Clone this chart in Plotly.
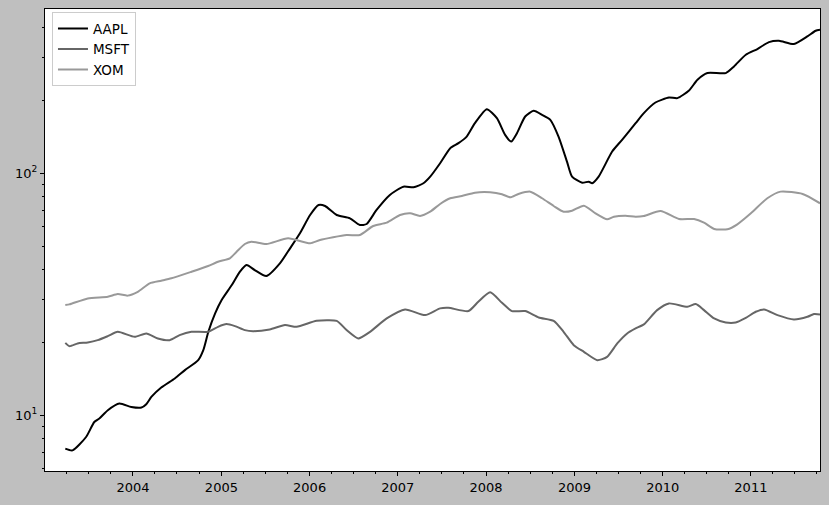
"""
Moyennes mobiles (60 jours) des cours AAPL, MSFT, XOM - échelle log
"""

import pandas as pd
import plotly.graph_objects as go

# --- Données ---
aapl_dates = [
    "2003-03-27", "2003-04-26", "2003-06-21", "2003-07-25", "2003-08-15", "2003-09-19",
    "2003-11-06", "2003-12-25", "2004-02-05", "2004-02-25", "2004-03-17", "2004-04-27",
    "2004-06-22", "2004-08-03", "2004-09-27", "2004-10-18", "2004-11-08", "2004-12-06",
    "2005-01-02", "2005-02-13", "2005-03-18", "2005-04-15", "2005-05-19", "2005-07-06",
    "2005-08-31", "2005-10-12", "2005-11-22", "2006-01-03", "2006-02-07", "2006-03-06",
    "2006-04-23", "2006-06-17", "2006-07-28", "2006-08-25", "2006-10-05", "2006-11-29",
    "2007-01-24", "2007-03-07", "2007-04-17", "2007-05-15", "2007-06-25", "2007-08-06",
    "2007-09-09", "2007-10-13", "2007-11-16", "2008-01-04", "2008-02-15", "2008-03-20",
    "2008-04-14", "2008-05-08", "2008-06-11", "2008-07-16", "2008-08-20", "2008-09-23",
    "2008-10-27", "2008-12-01", "2008-12-22", "2009-02-02", "2009-03-01", "2009-03-15",
    "2009-04-11", "2009-06-06", "2009-07-17", "2009-09-11", "2009-10-15", "2009-12-02",
    "2010-01-27", "2010-03-03", "2010-04-20", "2010-05-25", "2010-07-05", "2010-09-19",
    "2010-10-23", "2010-12-11", "2011-01-28", "2011-03-17", "2011-04-27", "2011-06-28",
    "2011-08-23", "2011-09-26", "2011-10-14",
]
aapl = [
    7.28, 7.16, 8.13, 9.38, 9.69, 10.49,
    11.18, 10.82, 10.76, 11.11, 11.90, 13.02,
    14.19, 15.36, 16.89, 18.57, 22.12, 26.35,
    29.91, 34.51, 39.16, 41.75, 39.81, 37.59,
    42.43, 48.94, 56.47, 67.21, 73.94, 73.23,
    67.21, 65.13, 61.12, 61.70, 70.50, 81.33,
    88.0, 87.5, 90.9, 96.8, 110.0, 126.9,
    133.1, 141.7, 161.0, 184.0, 168.9, 144.0,
    135.1, 146.4, 171.5, 181.0, 174.3, 166.2,
    141.7, 111.7, 96.8, 91.4, 92.3, 90.9,
    96.8, 122.9, 137.4, 161.0, 177.2, 196.0,
    205.5, 204.3, 219.7, 243.2, 259.3, 259.3,
    276.1, 308.7, 326.0, 348.3, 352.7, 341.8,
    367.4, 388.0, 391.7,
]

msft_dates = [
    "2003-03-27", "2003-04-13", "2003-05-17", "2003-06-28", "2003-08-08", "2003-09-19",
    "2003-10-30", "2004-01-08", "2004-02-25", "2004-04-13", "2004-06-01", "2004-07-12",
    "2004-08-30", "2004-11-07", "2004-12-18", "2005-01-22", "2005-02-26", "2005-04-08",
    "2005-05-12", "2005-07-20", "2005-09-21", "2005-11-08", "2006-01-30", "2006-04-23",
    "2006-06-03", "2006-07-21", "2006-09-08", "2006-11-16", "2007-01-31", "2007-04-24",
    "2007-06-25", "2007-07-29", "2007-10-20", "2007-11-30", "2008-01-18", "2008-03-07",
    "2008-04-17", "2008-06-11", "2008-08-06", "2008-10-07", "2008-11-17", "2008-12-29",
    "2009-02-09", "2009-04-05", "2009-05-16", "2009-06-27", "2009-08-07", "2009-09-11",
    "2009-10-15", "2009-12-09", "2010-01-27", "2010-04-13", "2010-05-18", "2010-06-21",
    "2010-08-02", "2010-09-19", "2010-10-30", "2010-12-11", "2011-01-21", "2011-02-25",
    "2011-04-21", "2011-06-28", "2011-08-23", "2011-09-19", "2011-10-14",
]
msft = [
    19.91, 19.30, 19.80, 19.99, 20.43, 21.23,
    22.12, 21.09, 21.78, 20.77, 20.43, 21.43,
    22.12, 22.12, 23.19, 23.80, 23.35, 22.48,
    22.26, 22.63, 23.58, 23.19, 24.55, 24.55,
    22.48, 20.77, 22.12, 25.12, 27.37, 25.93,
    27.64, 27.80, 26.94, 29.43, 32.20, 29.15,
    26.94, 26.94, 25.36, 24.55, 22.12, 19.48,
    18.28, 16.89, 17.43, 19.80, 21.78, 22.84,
    23.73, 27.19, 28.98, 28.06, 28.79, 27.19,
    25.12, 24.18, 24.18, 25.27, 26.76, 27.37,
    25.93, 24.88, 25.51, 26.18, 26.10,
]

xom_dates = [
    "2003-03-27", "2003-04-13", "2003-06-28", "2003-09-19", "2003-10-30", "2003-12-10",
    "2004-01-21", "2004-03-10", "2004-04-27", "2004-06-08", "2004-08-30", "2004-11-07",
    "2004-12-18", "2005-02-05", "2005-03-05", "2005-04-08", "2005-05-05", "2005-07-06",
    "2005-10-04", "2006-01-03", "2006-02-13", "2006-06-03", "2006-07-28", "2006-09-21",
    "2006-11-16", "2007-01-10", "2007-02-21", "2007-04-03", "2007-05-15", "2007-06-25",
    "2007-08-06", "2007-09-23", "2007-11-16", "2008-01-18", "2008-03-07", "2008-04-10",
    "2008-05-14", "2008-07-02", "2008-08-20", "2008-10-07", "2008-11-17", "2008-12-22",
    "2009-02-09", "2009-03-29", "2009-05-16", "2009-06-13", "2009-07-31", "2009-09-11",
    "2009-10-15", "2009-12-23", "2010-03-10", "2010-05-11", "2010-06-21", "2010-08-02",
    "2010-09-26", "2010-11-06", "2011-01-01", "2011-03-10", "2011-05-04", "2011-08-03",
    "2011-10-14",
]
xom = [
    28.52, 28.71, 30.39, 30.86, 31.66, 31.21,
    32.37, 35.07, 35.96, 36.79, 39.16, 41.36,
    43.09, 44.50, 47.38, 50.99, 52.12, 50.99,
    53.83, 51.33, 52.97, 55.55, 55.55, 60.54,
    62.47, 67.21, 68.31, 66.57, 69.36, 74.64,
    78.82, 80.56, 83.14, 83.45, 81.87, 79.56,
    82.11, 83.93, 78.82, 73.23, 69.36, 70.03,
    73.45, 68.31, 64.52, 66.13, 66.77, 66.13,
    66.57, 69.82, 64.70, 64.70, 62.47, 58.83,
    58.67, 61.52, 68.31, 78.82, 83.93, 82.11,
    75.14,
]

year_ticks = [f"{y}-01-01" for y in range(2004, 2012)]
year_labels = [str(y) for y in range(2004, 2012)]
quarter_ticks = [f"{y}-{m:02d}-01" for y in range(2003, 2012) for m in (1, 4, 7, 10)]
y_minor = [6, 7, 8, 9, 20, 30, 40, 50, 60, 70, 80, 90, 200, 300, 400]

series = [
    ("AAPL", aapl_dates, aapl, "#000000"),
    ("MSFT", msft_dates, msft, "#666666"),
    ("XOM", xom_dates, xom, "#999999"),
]

fig = go.Figure()
for name, dates, vals, color in series:
    fig.add_trace(go.Scatter(
        x=pd.to_datetime(dates), y=vals, name=name, mode="lines",
        line=dict(color=color, width=2, shape="spline", smoothing=0.6),
    ))

fig.update_layout(
    width=829, height=505,
    font=dict(family="DejaVu Sans, sans-serif", size=13, color="black"),
    paper_bgcolor="#bfbfbf",
    plot_bgcolor="white",
    margin=dict(l=45, r=9, t=9, b=34),
    showlegend=True,
    legend=dict(
        x=0.009, y=0.993, xanchor="left", yanchor="top",
        bgcolor="white", bordercolor="#cccccc", borderwidth=1,
        font=dict(size=13.5), itemwidth=30, tracegroupgap=0,
    ),
)

fig.update_xaxes(
    type="date",
    range=["2003-01-02", "2011-10-14"],
    tickmode="array", tickvals=year_ticks, ticktext=year_labels,
    ticks="outside", ticklen=4, tickcolor="black",
    minor=dict(tickmode="array", tickvals=quarter_ticks, ticks="outside",
               ticklen=2, tickcolor="black", showgrid=False),
    showgrid=False, zeroline=False,
    showline=True, linecolor="black", linewidth=1, mirror=True,
)
fig.update_yaxes(
    type="log",
    range=[0.7696, 2.6786],
    tickmode="array", tickvals=[10, 100],
    ticktext=["10<sup>1</sup>", "10<sup>2</sup>"],
    ticks="outside", ticklen=4, tickcolor="black",
    minor=dict(tickmode="array", tickvals=y_minor, ticks="outside",
               ticklen=2, tickcolor="black", showgrid=False),
    showgrid=False, zeroline=False,
    showline=True, linecolor="black", linewidth=1, mirror=True,
)

# pas de marge autour de la page, pour caler la figure sur la fenêtre
fig.write_html(
    "out.html",
    config={"displayModeBar": False},
    post_script="document.body.style.margin='0';",
)
